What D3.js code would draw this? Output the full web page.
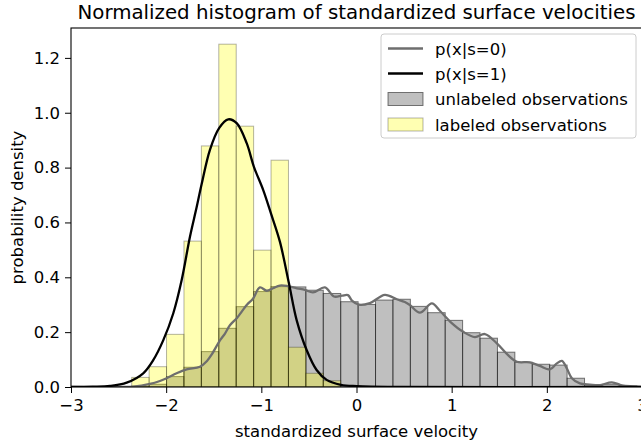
<!DOCTYPE html>
<html><head><meta charset="utf-8">
<script src="https://cdn.jsdelivr.net/npm/d3@7"></script>
<style>body{margin:0;background:#fff} svg{display:block} text{font-family:"DejaVu Sans",sans-serif;fill:#000}</style>
</head><body><svg id="c" width="641" height="448"></svg>
<script>
// ---- data ----
const binEdges = [-2.362,-2.179,-1.996,-1.813,-1.630,-1.447,-1.264,-1.081,-0.898,-0.715,-0.532,-0.349,-0.166,0.017,0.200,0.383,0.566,0.749,0.932,1.115,1.298,1.481,1.664,1.847,2.030,2.213,2.396,2.579,2.762,2.945,3.128];
const unlabeledDensity = [0.003,0.010,0.038,0.072,0.129,0.214,0.293,0.348,0.366,0.365,0.353,0.341,0.311,0.301,0.317,0.320,0.294,0.271,0.243,0.198,0.178,0.127,0.090,0.083,0.080,0.032,0.007,0.010,0.004,0.002];
const labeledDensity = [0.035,0.074,0.192,0.532,0.879,1.250,0.951,0.499,0.827,0.145,0.050,0.023,0,0,0,0,0,0,0,0,0,0,0,0,0,0,0,0,0,0];
const kde0X = [-3.0,-2.485,-2.349,-2.170,-2.065,-1.995,-1.890,-1.785,-1.645,-1.571,-1.519,-1.435,-1.382,-1.330,-1.256,-1.151,-1.088,-1.015,-0.944,-0.878,-0.805,-0.721,-0.626,-0.542,-0.458,-0.332,-0.237,-0.153,-0.090,-0.048,0.025,0.141,0.298,0.424,0.508,0.561,0.666,0.792,0.876,0.992,1.118,1.244,1.349,1.475,1.590,1.685,1.821,1.926,2.032,2.105,2.158,2.210,2.263,2.347,2.452,2.557,2.683,2.788,2.903,3.0];
const kde0Y = [0,0,0.001,0.011,0.022,0.032,0.050,0.064,0.074,0.095,0.120,0.170,0.195,0.225,0.252,0.300,0.322,0.363,0.351,0.360,0.370,0.368,0.360,0.354,0.345,0.363,0.330,0.333,0.335,0.315,0.300,0.306,0.336,0.320,0.310,0.299,0.271,0.305,0.278,0.236,0.202,0.182,0.193,0.159,0.117,0.092,0.090,0.077,0.064,0.086,0.095,0.068,0.032,0.013,0.009,0.007,0.017,0.006,0.002,0];
const kde1X = [-3.0,-2.77,-2.59,-2.415,-2.241,-2.136,-2.030,-1.925,-1.837,-1.750,-1.680,-1.627,-1.540,-1.442,-1.348,-1.259,-1.154,-1.078,-0.980,-0.899,-0.805,-0.710,-0.629,-0.524,-0.419,-0.314,-0.164,0.004,0.456,3.0];
const kde1Y = [0,0.001,0.004,0.016,0.050,0.098,0.171,0.269,0.390,0.548,0.655,0.740,0.865,0.945,0.976,0.962,0.889,0.803,0.718,0.633,0.530,0.378,0.244,0.135,0.062,0.026,0.008,0.003,0,0];
const xTicks = [-3,-2,-1,0,1,2,3];
const yTicks = [0,0.2,0.4,0.6,0.8,1.0,1.2];
const legendLabels = ["p(x|s=0)","p(x|s=1)","unlabeled observations","labeled observations"];

// ---- layout ----
const FS = 16.5;
const svg = d3.select("#c");
const L = 71, R = 642, T = 28, B = 387;
const x = d3.scaleLinear().domain([-3,3]).range([L,R]);
const y = d3.scaleLinear().domain([0,1.309]).range([B,T]);
const fmtX = d => d3.format("")(d).replace("-","\u2212");

svg.append("defs").append("clipPath").attr("id","clip")
  .append("rect").attr("x",L).attr("y",T).attr("width",R-L).attr("height",B-T);
const plot = svg.append("g").attr("clip-path","url(#clip)");

function bars(vals, fill, fop, sop){
  plot.append("g").selectAll("rect").data(vals.map((v,i)=>({v,i})).filter(d=>d.v>0)).join("rect")
    .attr("x",d=>x(binEdges[d.i])).attr("width",d=>x(binEdges[d.i+1])-x(binEdges[d.i]))
    .attr("y",d=>y(d.v)).attr("height",d=>y(0)-y(d.v))
    .attr("fill",fill).attr("fill-opacity",fop)
    .attr("stroke","#000").attr("stroke-opacity",sop).attr("stroke-width",1);
}
bars(unlabeledDensity,"#808080",0.5,0.5);
bars(labeledDensity,"#ffff00",0.3,0.3);

const line = d3.line().curve(d3.curveCatmullRom.alpha(0.5));
plot.append("path").attr("d",line(kde0X.map((v,i)=>[x(v),y(kde0Y[i])])))
  .attr("fill","none").attr("stroke","#6e6e6e").attr("stroke-width",2.3);
plot.append("path").attr("d",line(kde1X.map((v,i)=>[x(v),y(kde1Y[i])])))
  .attr("fill","none").attr("stroke","#000").attr("stroke-width",2.3);

// axes
const xa = svg.append("g").attr("transform",`translate(0,${B})`)
  .call(d3.axisBottom(x).tickValues(xTicks).tickFormat(fmtX).tickSize(6).tickPadding(6));
const ya = svg.append("g").attr("transform",`translate(${L},0)`)
  .call(d3.axisLeft(y).tickValues(yTicks).tickFormat(d3.format(".1f")).tickSize(6).tickPadding(5));
[xa,ya].forEach(a=>{a.select(".domain").remove(); a.selectAll("text").attr("font-size",FS).attr("font-family","DejaVu Sans").attr("fill","#000"); a.selectAll("line").attr("stroke","#000").attr("stroke-width",1);});
// spines
svg.append("rect").attr("x",L).attr("y",T).attr("width",R-L).attr("height",B-T)
  .attr("fill","none").attr("stroke","#000").attr("stroke-width",1.1);

// labels
svg.append("text").attr("x",(L+R)/2).attr("y",19).attr("text-anchor","middle").attr("font-size",FS*1.2)
  .text("Normalized histogram of standardized surface velocities");
svg.append("text").attr("x",(L+R)/2).attr("y",437).attr("text-anchor","middle").attr("font-size",FS)
  .text("standardized surface velocity");
svg.append("text").attr("transform",`translate(23,${(T+B)/2}) rotate(-90)`).attr("text-anchor","middle").attr("font-size",FS)
  .text("probability density");

// legend
const lg = svg.append("g");
lg.append("rect").attr("x",381).attr("y",34).attr("width",255).attr("height",104).attr("rx",3)
  .attr("fill","#fff").attr("fill-opacity",0.8).attr("stroke","#cccccc");
const rows = [48.5,73.5,99,124.5];
lg.append("line").attr("x1",388).attr("x2",423).attr("y1",rows[0]).attr("y2",rows[0]).attr("stroke","#6e6e6e").attr("stroke-width",2.3);
lg.append("line").attr("x1",388).attr("x2",423).attr("y1",rows[1]).attr("y2",rows[1]).attr("stroke","#000").attr("stroke-width",2.3);
lg.append("rect").attr("x",388).attr("y",rows[2]-6.5).attr("width",35).attr("height",13)
  .attr("fill","#808080").attr("fill-opacity",0.5).attr("stroke","#000").attr("stroke-opacity",0.5);
lg.append("rect").attr("x",388).attr("y",rows[3]-6.5).attr("width",35).attr("height",13)
  .attr("fill","#ffff00").attr("fill-opacity",0.3).attr("stroke","#000").attr("stroke-opacity",0.3);
legendLabels.forEach((t,i)=>lg.append("text").attr("x",435).attr("y",rows[i]+6).attr("font-size",FS).text(t));
</script></body></html>
